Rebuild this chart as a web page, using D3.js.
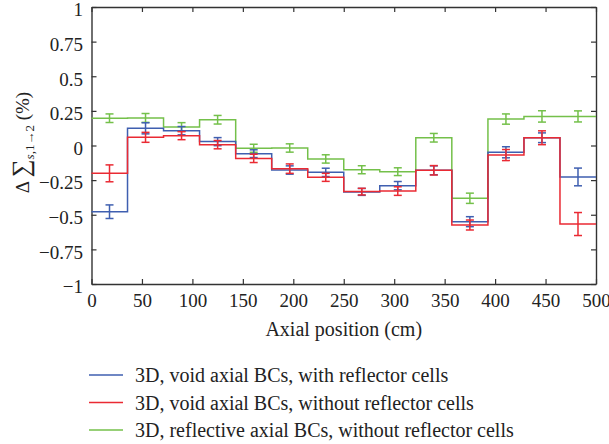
<!DOCTYPE html>
<html>
<head>
<meta charset="utf-8">
<script src="https://cdn.jsdelivr.net/npm/d3@7"></script>
</head>
<body style="margin:0">
<script>
// bin edges along the axial direction (cm)
const binEdges = [0, 35.7, 71.4, 107.1, 142.9, 178.6, 214.3, 250, 285.7, 321.4, 357.1, 392.9, 428.6, 464.3, 500];

// 3D, void axial BCs, with reflector cells
const blueVals = [-0.478, 0.124, 0.107, 0.028, -0.059, -0.177, -0.194, -0.335, -0.290, -0.179, -0.550, -0.049, 0.056, -0.227];
const blueErr  = [0.049, 0.040, 0.030, 0.029, 0.028, 0.030, 0.030, 0.025, 0.030, 0.032, 0.036, 0.040, 0.035, 0.064];
// 3D, void axial BCs, without reflector cells
const redVals  = [-0.201, 0.059, 0.071, 0.006, -0.093, -0.167, -0.230, -0.333, -0.329, -0.179, -0.574, -0.069, 0.056, -0.567];
const redErr   = [0.061, 0.036, 0.029, 0.030, 0.030, 0.034, 0.029, 0.024, 0.031, 0.034, 0.036, 0.040, 0.050, 0.083];
// 3D, reflective axial BCs, without reflector cells
const greenVals = [0.197, 0.199, 0.134, 0.186, -0.020, -0.018, -0.097, -0.175, -0.189, 0.056, -0.381, 0.191, 0.210, 0.210];
const greenErr  = [0.031, 0.032, 0.031, 0.031, 0.029, 0.030, 0.030, 0.029, 0.028, 0.031, 0.037, 0.037, 0.041, 0.040];

const xTicks = [0, 50, 100, 150, 200, 250, 300, 350, 400, 450, 500];
const yTicks = [-1, -0.75, -0.5, -0.25, 0, 0.25, 0.5, 0.75, 1];

const seriesNames = [
  "3D, void axial BCs, with reflector cells",
  "3D, void axial BCs, without reflector cells",
  "3D, reflective axial BCs, without reflector cells"
];
const seriesColors = ["#3f5fb0", "#ea2a33", "#74c04a"];

const FONT = "Liberation Serif";

const margin = { top: 7, right: 13, bottom: 160, left: 91.5 },
    width = 609 - margin.left - margin.right,
    height = 444 - margin.top - margin.bottom;

const svg = d3.select("body")
    .append("svg")
    .attr("width", 609)
    .attr("height", 444)
    .append("g")
    .attr("transform", `translate(${margin.left},${margin.top})`);

const x = d3.scaleLinear().domain([0, 500]).range([0, width]);
const y = d3.scaleLinear().domain([-1, 1]).range([height, 0]);

// axes, ticks pointing inward on all four sides
const fmt = d => (d < 0 ? "\u2212" + Math.abs(d) : "" + d);
const axB = svg.append("g").attr("transform", `translate(0,${height})`)
    .call(d3.axisBottom(x).tickValues(xTicks).tickSizeInner(-5).tickSizeOuter(0).tickPadding(9.5).tickFormat(fmt));
const axL = svg.append("g")
    .call(d3.axisLeft(y).tickValues(yTicks).tickSizeInner(-5).tickSizeOuter(0).tickPadding(8.5).tickFormat(fmt));
const axT = svg.append("g")
    .call(d3.axisTop(x).tickValues(xTicks).tickSizeInner(-5).tickSizeOuter(0).tickFormat(""));
const axR = svg.append("g").attr("transform", `translate(${width},0)`)
    .call(d3.axisRight(y).tickValues(yTicks).tickSizeInner(-5).tickSizeOuter(0).tickFormat(""));

[axB, axL, axT, axR].forEach(a => {
  a.select(".domain").attr("stroke", "#333").attr("stroke-width", 1.4);
  a.selectAll(".tick line").attr("stroke", "#333").attr("stroke-width", 1.2);
  a.selectAll(".tick text")
    .attr("fill", "#222")
    .attr("font-family", FONT)
    .attr("font-size", 19);
});
axL.selectAll(".tick text").attr("dy", "0.46em");

// series
const series = [
  { vals: greenVals, err: greenErr, color: seriesColors[2] },
  { vals: blueVals, err: blueErr, color: seriesColors[0] },
  { vals: redVals, err: redErr, color: seriesColors[1] }
];

const line = d3.line()
    .x(d => x(d[0]))
    .y(d => y(d[1]))
    .curve(d3.curveStepAfter);

series.forEach(s => {
  const pts = s.vals.map((v, i) => [binEdges[i], v]);
  pts.push([binEdges[binEdges.length - 1], s.vals[s.vals.length - 1]]);

  svg.append("path")
    .datum(pts)
    .attr("fill", "none")
    .attr("stroke", s.color)
    .attr("stroke-width", 1.5)
    .attr("d", line);

  const bars = svg.append("g")
    .selectAll("g")
    .data(s.vals.map((v, i) => ({ c: (binEdges[i] + binEdges[i + 1]) / 2, v: v, e: s.err[i] })))
    .join("g")
    .attr("stroke", s.color)
    .attr("stroke-width", 1.5);

  bars.append("line")
    .attr("x1", d => x(d.c)).attr("x2", d => x(d.c))
    .attr("y1", d => y(d.v + d.e)).attr("y2", d => y(d.v - d.e));
  bars.append("line")
    .attr("x1", d => x(d.c) - 4).attr("x2", d => x(d.c) + 4)
    .attr("y1", d => y(d.v + d.e)).attr("y2", d => y(d.v + d.e));
  bars.append("line")
    .attr("x1", d => x(d.c) - 4).attr("x2", d => x(d.c) + 4)
    .attr("y1", d => y(d.v - d.e)).attr("y2", d => y(d.v - d.e));
});

// x axis title
svg.append("text")
    .attr("x", width / 2)
    .attr("y", height + 52)
    .attr("text-anchor", "middle")
    .attr("font-family", FONT)
    .attr("font-size", 20)
    .attr("fill", "#222")
    .text("Axial position (cm)");

// y axis title
const yl = svg.append("text")
    .attr("transform", `translate(${-62.5},${height / 2 - 3}) rotate(-90)`)
    .attr("text-anchor", "middle")
    .attr("font-family", FONT)
    .attr("font-size", 19)
    .attr("fill", "#222");
yl.append("tspan").attr("font-family", FONT).text("\u0394 ");
yl.append("tspan").attr("font-family", FONT).attr("font-size", 25).text("\u2211");
yl.append("tspan").attr("font-family", FONT).attr("font-size", 13).attr("dy", 5).attr("font-style", "italic").text("s");
yl.append("tspan").attr("font-family", FONT).attr("font-size", 13).text(",1\u21922");
yl.append("tspan").attr("font-family", FONT).attr("dy", -5).text(" (%)");

// legend
const legend = svg.append("g")
    .attr("transform", `translate(${89 - margin.left},${375 - margin.top})`);
const items = legend.selectAll("g")
    .data(seriesNames)
    .join("g")
    .attr("transform", (d, i) => `translate(0,${i * 27.5})`);
items.append("line")
    .attr("x1", 0).attr("x2", 34)
    .attr("y1", 0).attr("y2", 0)
    .attr("stroke", (d, i) => seriesColors[i])
    .attr("stroke-width", 1.5);
items.append("text")
    .attr("x", 46)
    .attr("y", 7)
    .attr("font-family", FONT)
    .attr("font-size", 20)
    .attr("fill", "#222")
    .text(d => d);
</script>
</body>
</html>
